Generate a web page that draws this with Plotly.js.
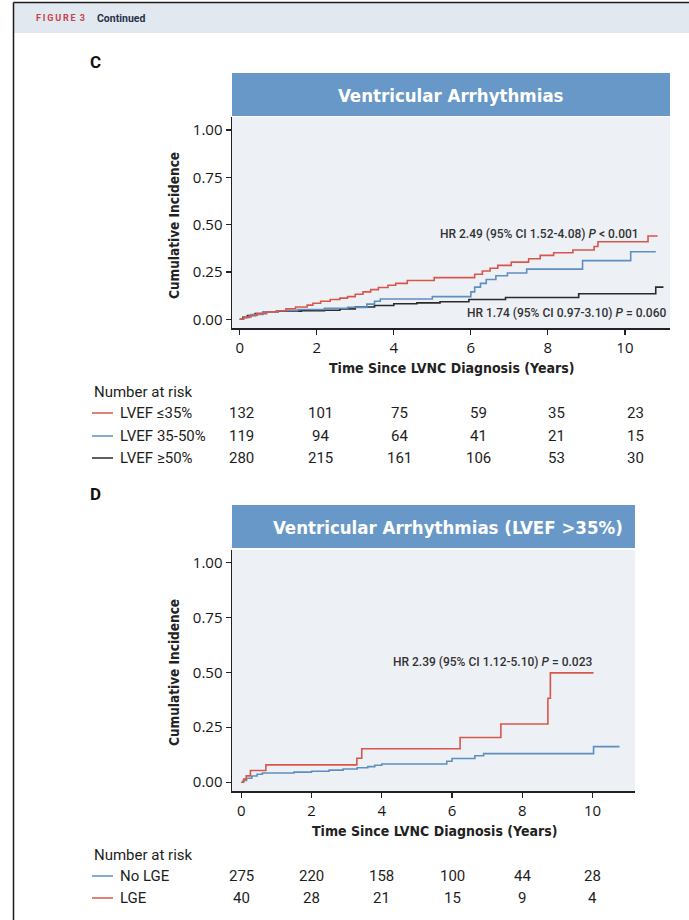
<!DOCTYPE html>
<html><head><meta charset="utf-8">
<script src="https://cdn.plot.ly/plotly-3.0.1.min.js"></script>
<style>html,body{margin:0;padding:0;background:#fff}#chart{width:689px;height:920px}</style>
</head><body><div id="chart"></div>
<script>
// ---------- Panel C data (cumulative incidence, step curves) ----------
const cRedT   = [0,0.1,0.25,0.45,0.7,0.95,1.2,1.45,1.75,1.9,2.1,2.35,2.6,2.8,3.0,3.2,3.4,3.6,3.85,4.05,4.35,5.05,6.1,6.3,6.5,6.7,7.05,7.5,7.8,8.15,8.65,9.2,9.3,10.6,10.85];
const cRedY   = [0,0.01,0.02,0.03,0.04,0.045,0.055,0.065,0.075,0.085,0.095,0.105,0.112,0.12,0.132,0.145,0.157,0.168,0.18,0.19,0.205,0.22,0.238,0.255,0.27,0.285,0.302,0.32,0.338,0.352,0.366,0.385,0.41,0.44,0.44];
const cBlueT  = [0,0.1,0.3,0.6,1.0,1.5,2.2,2.8,3.3,3.5,3.65,5.0,6.0,6.1,6.25,6.4,6.65,6.95,7.45,8.9,10.15,10.8];
const cBlueY  = [0,0.012,0.025,0.038,0.045,0.052,0.058,0.063,0.08,0.095,0.107,0.12,0.145,0.17,0.19,0.21,0.23,0.245,0.265,0.31,0.357,0.357];
const cBlackT = [0,0.08,0.2,0.4,0.6,1.0,1.6,2.2,2.6,3.0,3.5,4.0,4.6,5.2,5.95,6.9,8.8,10.8,11.0];
const cBlackY = [0,0.01,0.02,0.03,0.037,0.043,0.046,0.048,0.055,0.065,0.073,0.082,0.087,0.093,0.105,0.115,0.135,0.17,0.17];

// ---------- Panel D data ----------
const dRedT  = [0,0.07,0.14,0.26,0.7,3.29,3.43,6.23,7.39,8.73,8.8,10.03];
const dRedY  = [0,0.014,0.029,0.053,0.079,0.109,0.152,0.203,0.265,0.382,0.497,0.497];
const dBlueT = [0,0.05,0.15,0.3,0.45,0.6,1.5,2.0,2.5,2.9,3.3,3.6,3.8,4.0,5.85,6.0,6.65,6.9,10.03,10.77];
const dBlueY = [0,0.008,0.018,0.028,0.036,0.042,0.046,0.05,0.055,0.06,0.066,0.071,0.077,0.083,0.095,0.108,0.12,0.13,0.162,0.162];

// ---------- Axis ticks ----------
const xTicks = [0,2,4,6,8,10];
const yTicks = [0,0.25,0.5,0.75,1];

// ---------- Number at risk ----------
const riskTimes = [0,2,4,6,8,10];
const riskCLabels = ['LVEF \u226435%','LVEF 35-50%','LVEF \u226550%'];
const riskC35   = [132,101,75,59,35,23];
const riskC3550 = [119,94,64,41,21,15];
const riskC50   = [280,215,161,106,53,30];
const riskDLabels = ['No LGE','LGE'];
const riskDNoLGE = [275,220,158,100,44,28];
const riskDLGE   = [40,28,21,15,9,4];

// ---------- Texts ----------
const titleC = 'Ventricular Arrhythmias';
const titleD = 'Ventricular Arrhythmias (LVEF >35%)';
const xTitle = 'Time Since LVNC Diagnosis (Years)';
const yTitle = 'Cumulative Incidence';
const hrC1 = 'HR 2.49 (95% CI 1.52-4.08) <i>P</i> < 0.001';
const hrC2 = 'HR 1.74 (95% CI 0.97-3.10) <i>P</i> = 0.060';
const hrD  = 'HR 2.39 (95% CI 1.12-5.10) <i>P</i> = 0.023';
const figLabel = 'F\u2009I\u2009G\u2009U\u2009R\u2009E\u2009 3';
const figCont = 'Continued';

// ---------- Styling / layout helpers ----------
const W=689, H=920;
const px = X => X/W, py = Y => 1 - Y/H;
const RED='#d9574a', BLUE='#5f8fbf', BLACK='#2a2a2a', BAR='#6898c7';
const TITLEF='"Liberation Sans Narrow", "DejaVu Sans Condensed", Roboto, sans-serif';
const TICKF='"Open Sans", sans-serif';
const TABF='Roboto, sans-serif';

function line(t,y,color,xa,ya){
  return {x:t,y:y,mode:'lines',line:{shape:'hv',color:color,width:1.6},xaxis:xa,yaxis:ya,hoverinfo:'skip',showlegend:false};
}
const data = [
  line(cBlackT,cBlackY,BLACK,'x','y'),
  line(cBlueT,cBlueY,BLUE,'x','y'),
  line(cRedT,cRedY,RED,'x','y'),
  line(dBlueT,dBlueY,BLUE,'x2','y2'),
  line(dRedT,dRedY,RED,'x2','y2')
];

function xax(dom,rng,anchor){
  return {domain:dom,range:rng,anchor:anchor,tickvals:xTicks,ticks:'outside',ticklen:5,tickwidth:1.2,tickcolor:'#222',
    showline:true,linecolor:'#222',linewidth:1.5,showgrid:false,zeroline:false,fixedrange:true,
    tickfont:{family:TICKF,size:15,color:'#161616'}};
}
function yax(dom,rng,anchor){
  return {domain:dom,range:rng,anchor:anchor,tickvals:yTicks,tickformat:'.2f',ticks:'outside',ticklen:5,tickwidth:1.2,tickcolor:'#222',
    showline:true,linecolor:'#222',linewidth:1.5,showgrid:false,zeroline:false,fixedrange:true,
    tickfont:{family:TICKF,size:15,color:'#161616'}};
}

const ann = [];
const shapes = [];
function txt(X,Y,text,opt){
  ann.push(Object.assign({xref:'paper',yref:'paper',x:px(X),y:py(Y),text:text,showarrow:false,xanchor:'left',yanchor:'middle'},opt||{}));
}
// frame and figure band
shapes.push({type:'rect',xref:'paper',yref:'paper',x0:px(14),x1:1,y0:py(33),y1:py(3),fillcolor:'#e2e8ef',line:{width:0},layer:'below'});
shapes.push({type:'line',xref:'paper',yref:'paper',x0:px(13.5),x1:px(13.5),y0:0,y1:py(2.5),line:{color:'#1a1a1a',width:1.5}});
shapes.push({type:'line',xref:'paper',yref:'paper',x0:px(13.5),x1:1,y0:py(2.5),y1:py(2.5),line:{color:'#1a1a1a',width:1.5}});
txt(34,18,'<b>'+figLabel+'</b>',{font:{family:TABF,size:9,color:'#c8414a'}});
txt(95,18,'<b>'+figCont+'</b>',{font:{family:TABF,size:10.5,color:'#27324a'}});

// panel letters
txt(88,62,'<b>C</b>',{font:{family:TABF,size:17,color:'#111'}});
txt(88,494,'<b>D</b>',{font:{family:TABF,size:17,color:'#111'}});

// header bars
shapes.push({type:'rect',xref:'paper',yref:'paper',x0:px(232),x1:px(670),y0:py(116),y1:py(73),fillcolor:BAR,line:{width:0}});
shapes.push({type:'rect',xref:'paper',yref:'paper',x0:px(232),x1:px(635),y0:py(548),y1:py(505),fillcolor:BAR,line:{width:0}});
txt(451,95,'<b>'+titleC+'</b>',{xanchor:'center',font:{family:TITLEF,size:18.5,color:'#fff'}});
txt(448,527,'<b>'+titleD+'</b>',{xanchor:'center',font:{family:TITLEF,size:18.5,color:'#fff'}});

// axis titles
txt(451,368,'<b>'+xTitle+'</b>',{xanchor:'center',font:{family:TITLEF,size:14,color:'#222'}});
txt(434,831,'<b>'+xTitle+'</b>',{xanchor:'center',font:{family:TITLEF,size:14,color:'#222'}});
txt(174,226,'<b>'+yTitle+'</b>',{xanchor:'center',textangle:-90,font:{family:TITLEF,size:13.5,color:'#222'}});
txt(174,673,'<b>'+yTitle+'</b>',{xanchor:'center',textangle:-90,font:{family:TITLEF,size:13.5,color:'#222'}});

// HR annotations
const hrFont = {family:TABF,size:12,color:'#333',weight:500};
txt(641,234,hrC1,{xanchor:'right',font:hrFont});
txt(668,313,hrC2,{xanchor:'right',font:hrFont});
txt(594,662,hrD,{xanchor:'right',font:hrFont});

// risk tables
const tabFont = {family:TABF,size:15,color:'#1e1e1e'};
txt(92,392,'Number at risk',{font:tabFont});
const rowsC = [[riskCLabels[0],riskC35,RED,413],[riskCLabels[1],riskC3550,BLUE,436],[riskCLabels[2],riskC50,BLACK,458]];
rowsC.forEach(r=>{
  shapes.push({type:'line',xref:'paper',yref:'paper',x0:px(92),x1:px(113),y0:py(r[3]),y1:py(r[3]),line:{color:r[2],width:1.5}});
  txt(118,r[3],r[0],{font:tabFont});
  r[1].forEach((v,i)=>ann.push({xref:'x3',yref:'paper',x:riskTimes[i],y:py(r[3]),text:String(v),showarrow:false,xanchor:'center',yanchor:'middle',font:tabFont}));
});
txt(92,855,'Number at risk',{font:tabFont});
const rowsD = [[riskDLabels[0],riskDNoLGE,BLUE,876],[riskDLabels[1],riskDLGE,RED,898]];
rowsD.forEach(r=>{
  shapes.push({type:'line',xref:'paper',yref:'paper',x0:px(92),x1:px(113),y0:py(r[3]),y1:py(r[3]),line:{color:r[2],width:1.5}});
  txt(118,r[3],r[0],{font:tabFont});
  r[1].forEach((v,i)=>ann.push({xref:'x2',yref:'paper',x:riskTimes[i],y:py(r[3]),text:String(v),showarrow:false,xanchor:'center',yanchor:'middle',font:tabFont}));
});

const layout = {
  width:W,height:H,margin:{l:0,r:0,t:0,b:0},
  paper_bgcolor:'#ffffff',plot_bgcolor:'#edf1f6',showlegend:false,
  xaxis: xax([px(232),px(670)],[-0.2,11.17],'y'),
  yaxis: yax([py(328),py(117)],[-0.046,1.069],'x'),
  xaxis2: xax([px(232),px(635)],[-0.265,11.21],'y2'),
  yaxis2: yax([py(791),py(550)],[-0.04,1.056],'x2'),
  xaxis3: {domain:[px(232),px(670)],range:[-0.228,10.861],overlaying:'x',anchor:'y',visible:false,fixedrange:true},
  shapes:shapes, annotations:ann
};
Plotly.newPlot('chart',data,layout,{displayModeBar:false,staticPlot:true});
</script></body></html>
